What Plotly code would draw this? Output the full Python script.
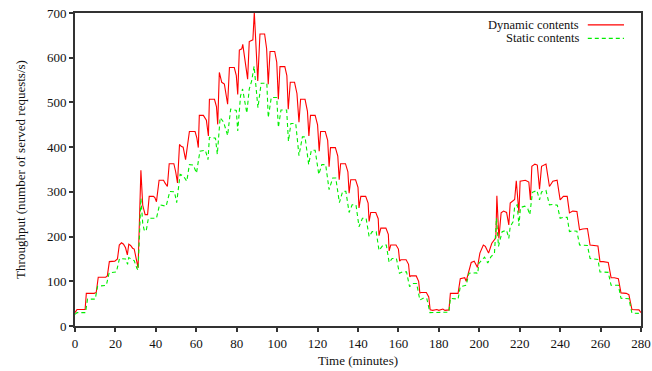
import plotly.graph_objects as go

# Dynamic contents (red) breakpoints: time (minutes), throughput (req/s)
dyn_t = [0, 1, 5, 5.6, 9.5, 10.5, 11.5, 15.2, 16, 17, 19.7, 21, 21.9, 23, 24, 25, 25.9, 26.6, 27.5, 28.5, 29.3, 30.6, 31.2,
         32.6, 33.5, 34.7, 35.9, 36.7, 38.8, 39.5, 40.3, 41.6, 43.8, 44.5, 45.7, 46.6, 48.9, 49.8, 50.7, 51.7, 52.5, 53.5,
         54.7, 56.6, 59.4, 60.3, 61, 61.5, 63.5, 65, 66, 66.5, 69, 70, 70.6, 71.4, 72.6, 73.9, 74.8, 75.5, 76.4, 78.8,
         79.8, 80.5, 81.3, 82.5, 83, 84, 85.4, 86.2, 88, 88.7, 90.4, 91.5, 93.8, 94.8, 95.6, 96.5, 98.8, 99.8, 100.6,
         101.4, 103.8, 104.8, 105.5, 106.5, 108.6, 109.8, 110.8, 111.6, 113.8, 115, 115.7, 116.5, 118.8, 120, 120.8,
         121.5, 123.8, 125, 125.7, 126.4, 128.8, 130, 130.7, 131.4, 133.8, 135, 135.6, 136.4, 138.8, 140, 140.5, 141.4,
         143.8, 145, 145.5, 146.3, 148.8, 150, 150.4, 151.3, 153.8, 155, 155.4, 156.2, 158.8, 160, 160.6, 161.2, 163.8,
         165, 165.6, 166.2, 168.8, 170, 170.6, 171.2, 173.8, 175, 175.7, 177, 179, 180, 182, 183, 185, 185.7, 189.5,
         190.6, 192.8, 193.5, 196, 197.5, 199.1, 200.3, 202, 203, 204.6, 206.2, 207.6, 208.2, 208.7, 209.7, 210.8, 212,
         213.5, 214.6, 215.3, 216.5, 217.5, 218.3, 219.6, 220.2, 222.8, 224.5, 225.3, 226, 227.5, 228.7, 229.8, 230.8,
         233, 234.7, 236.4, 238.5, 240, 241.6, 243.5, 244.6, 246.2, 248.3, 249.6, 251.2, 253.5, 254.8, 257, 258.7,
         259.7, 261.3, 263.8, 265.2, 266.8, 268.8, 270.1, 272.7, 274, 275.5, 279, 280]
dyn_v = [30, 37, 37, 73, 73, 75, 109, 109, 112, 144, 145, 150, 181, 186, 183, 175, 159, 183, 180, 174, 172, 140, 130,
         348, 270, 249, 249, 290, 290, 287, 278, 326, 326, 320, 312, 363, 363, 345, 320, 406, 402, 400,
         372, 435, 435, 420, 399, 471, 471, 460, 425, 507, 507, 490, 451, 567, 545, 541, 520, 496, 578, 578,
         560, 518, 617, 620, 630, 600, 552, 636, 640, 702, 548, 653, 653, 620, 541, 614, 614, 590, 507,
         580, 580, 560, 485, 545, 545, 520, 456, 507, 507, 480, 425, 471, 471, 450, 391,
         435, 435, 415, 356, 399, 399, 380, 327, 363, 363, 345, 297, 327, 327, 310, 264, 290,
         290, 275, 234, 254, 254, 240, 202, 219, 219, 205, 168, 181, 181, 172, 145, 148, 148,
         138, 110, 112, 112, 100, 74, 75, 75, 65, 36, 35, 37, 35, 38, 35, 36, 73, 73,
         106, 108, 100, 142, 145, 131, 163, 181, 178, 163, 185, 192, 197, 291, 196, 253, 257,
         254, 226, 275, 279, 283, 325, 253, 324, 326, 322, 282, 357, 362, 360, 306, 357,
         362, 312, 324, 326, 282, 290, 290, 253, 257, 256, 215, 217, 218, 181, 180, 179,
         144, 144, 142, 108, 108, 106, 74, 73, 70, 37, 36, 30]

# Static contents (green) breakpoints
sta_t = [0, 0.6, 1, 5.2, 6.2, 10, 11.2, 15.5, 16.9, 20.5, 22, 25, 26, 26.6, 28, 29.3, 30.6, 31.2, 32.6, 33.5, 34.2,
         35.2, 36.3, 40.3, 41.8, 45.1, 46.9, 49.2, 50.3, 52, 53.5, 55.3, 56.6, 58.5, 60.1, 61.8, 64.5, 65.8, 66.5,
         69.5, 70.4, 71.8, 73.5, 75.5, 77, 79.8, 80.5, 81.9, 82.9, 85, 86.2, 87.4, 88.6, 90.5, 92.1, 94.9, 95.6,
         97.1, 99.8, 100.6, 101.9, 104.7, 105.6, 106.8, 109.2, 110.8, 112.5, 113.8, 115.6, 116.9, 118.8, 120.6,
         122.1, 124, 125.7, 127.5, 129, 130.8, 132.4, 134, 135.6, 137.1, 139, 140.5, 142.2, 144, 145.5, 147, 149,
         150.4, 152.4, 154, 155.4, 156.9, 159, 160.5, 162, 164, 165.5, 167.1, 169, 170.6, 172.2, 174, 175.6, 185,
         185.7, 189.5, 190.6, 193.5, 194.9, 198.5, 199.2, 199.8, 202.6, 204.2, 205.8, 207.5, 208.5, 209.5, 211.3,
         213.5, 214.6, 215.3, 216.7, 217.5, 218.8, 219.6, 220.4, 222.5, 224, 225, 226.3, 228.5, 229.8, 230.8, 233,
         234.7, 236.4, 238.6, 240, 241.6, 243.5, 244.6, 246.2, 248.3, 249.6, 251.2, 253.5, 254.8, 257, 258.7,
         259.7, 261.3, 263.8, 265.2, 266.8, 268.8, 270.1, 272.7, 274, 275.5, 280]
sta_v = [26, 28, 30, 30, 60, 60, 89, 91, 119, 121, 151, 150, 138, 153, 150, 146, 129, 125, 286, 230, 215,
         212, 241, 241, 271, 268, 301, 300, 276, 339, 336, 324, 361, 360, 342, 391, 393, 372, 422,
         420, 384, 466, 456, 426, 485, 482, 436, 515, 530, 476, 530, 548, 581, 488, 543, 543, 466,
         511, 511, 444, 483, 483, 413, 453, 453, 381, 423, 423, 361, 393, 393, 339,
         361, 361, 305, 331, 331, 276, 301, 301, 254, 271, 271, 222, 241, 241, 200, 211, 211,
         169, 181, 181, 142, 151, 151, 118, 121, 121, 88, 95, 95, 58, 62, 62, 30, 31,
         62, 60, 88, 91, 118, 119, 117, 140, 154, 141, 155, 162, 241, 178, 211,
         214, 196, 222, 233, 267, 271, 224, 265, 268, 262, 249, 299, 303, 282, 300, 303,
         271, 272, 270, 241, 243, 243, 211, 213, 212, 181, 181, 180, 151, 150, 149,
         121, 120, 120, 91, 91, 91, 62, 62, 61, 29, 28]

x_ticks = [0, 20, 40, 60, 80, 100, 120, 140, 160, 180, 200, 220, 240, 260, 280]
y_ticks = [0, 100, 200, 300, 400, 500, 600, 700]
series_names = ["Dynamic contents", "Static contents"]
RED = "#ff0000"
GREEN = "#00ee00"
FONT = "Liberation Serif, Times New Roman, serif"

fig = go.Figure()
fig.add_trace(go.Scatter(x=dyn_t, y=dyn_v, mode="lines", name=series_names[0],
                         line=dict(color=RED, width=1.1)))
fig.add_trace(go.Scatter(x=sta_t, y=sta_v, mode="lines", name=series_names[1],
                         line=dict(color=GREEN, width=1.1, dash="4px,3px")))

axis_common = dict(showgrid=False, zeroline=False, showline=True, linecolor="#333333", linewidth=2,
                   mirror=True, ticks="outside", ticklen=4, tickwidth=1.5, tickcolor="#333333",
                   automargin=False,
                   tickfont=dict(family=FONT, size=13, color="#111111"))

fig.update_xaxes(range=[0, 280], tickvals=x_ticks, ticktext=[str(v) for v in x_ticks],
                 title=dict(text="Time (minutes)", font=dict(family=FONT, size=13, color="#111111"), standoff=6),
                 **axis_common)
fig.update_yaxes(range=[0, 700], tickvals=y_ticks, ticktext=[str(v) for v in y_ticks],
                 title=dict(text="Throughput (number of served requests/s)",
                            font=dict(family=FONT, size=13, color="#111111"), standoff=18),
                 **axis_common)

# Legend in gnuplot style: text right-aligned, line sample to its right
leg_y = [0.962, 0.919]
for name, col, dash, yy in [(series_names[0], RED, "solid", leg_y[0]), (series_names[1], GREEN, "4px,3px", leg_y[1])]:
    fig.add_annotation(xref="paper", yref="paper", x=0.893, y=yy, text=name, showarrow=False,
                       xanchor="right", yanchor="middle", borderpad=0,
                       font=dict(family=FONT, size=12.5, color="#111111"))
    fig.add_shape(type="line", xref="paper", yref="paper", x0=0.906, x1=0.970, y0=yy, y1=yy,
                  line=dict(color=col, width=1.1, dash=dash))

fig.update_layout(width=652, height=371, margin=dict(l=75, r=11, t=13, b=45),
                  paper_bgcolor="white", plot_bgcolor="white", showlegend=False,
                  font=dict(family=FONT, size=13, color="#111111"))

# remove the default page margin so the figure fills the 652x371 window exactly
fig.write_html("out.html", config={"displayModeBar": False},
               post_script="document.body.style.margin='0';document.body.style.padding='0';")
